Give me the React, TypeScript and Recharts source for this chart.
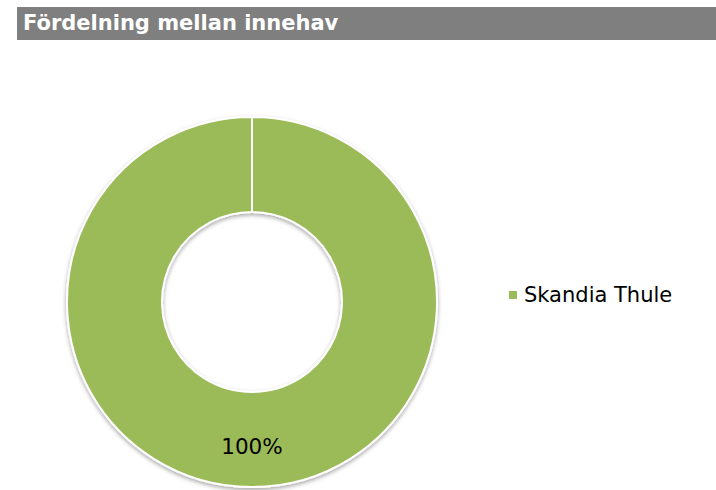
import React from "react";
import { PieChart, Pie, Cell, Legend } from "recharts";

// Holdings and their share of the portfolio (percent)
const holdings: string[] = ["Skandia Thule"];
const shares: number[] = [100];
const colors: string[] = ["#9BBB59"];

const data = holdings.map((name, i) => ({ name, value: shares[i] }));

const FONT = "'DejaVu Sans', Verdana, sans-serif";

// Percent label placed inside the ring, a bit towards the outer edge
const renderLabel = (props: any) => {
    const { cx, cy, midAngle, innerRadius, outerRadius, value } = props;
    const RAD = Math.PI / 180;
    const r = innerRadius + (outerRadius - innerRadius) * 0.57;
    const x = cx + r * Math.cos(-midAngle * RAD);
    const y = cy + r * Math.sin(-midAngle * RAD);
    return (
        <text
            x={x}
            y={y}
            fill="#000"
            textAnchor="middle"
            dominantBaseline="central"
            style={{ fontFamily: FONT, fontSize: 21.5 }}
        >
            {`${value}%`}
        </text>
    );
};

const LegendContent = (props: any) => {
    const { payload } = props;
    return (
        <div>
            {(payload || []).map((entry: any, i: number) => (
                <div key={i} style={{ display: "flex", alignItems: "center", fontFamily: FONT, fontSize: 21, color: "#000" }}>
                    <span style={{ display: "inline-block", width: 8, height: 8, background: entry.color, marginRight: 7 }} />
                    <span>{entry.value}</span>
                </div>
            ))}
        </div>
    );
};

export default function App() {
    return (
        <div style={{ position: "absolute", left: 0, top: 0, width: 716, height: 490, background: "#fff", overflow: "hidden" }}>
            {/* Title bar */}
            <div
                style={{
                    position: "absolute",
                    left: 17,
                    top: 7,
                    width: 699,
                    height: 33,
                    background: "#7F7F7F",
                    color: "#fff",
                    fontFamily: FONT,
                    fontWeight: "bold",
                    fontSize: 21,
                    lineHeight: "33px",
                    paddingLeft: 6,
                    boxSizing: "border-box",
                }}
            >
                Fördelning mellan innehav
            </div>
            <PieChart
                width={716}
                height={490}
                margin={{ top: 0, right: 0, bottom: 0, left: 0 }}
                style={{ position: "absolute", left: 0, top: 0 }}
            >
                <defs>
                    <filter id="ringShadow" x="-20%" y="-20%" width="140%" height="140%">
                        <feDropShadow dx="0" dy="2" stdDeviation="2" floodColor="#000" floodOpacity="0.35" />
                    </filter>
                </defs>
                <Pie
                    data={data}
                    dataKey="value"
                    nameKey="name"
                    cx={252}
                    cy={302}
                    innerRadius={90}
                    outerRadius={185}
                    startAngle={90}
                    endAngle={-270}
                    stroke="#FFFFFF"
                    strokeWidth={2}
                    label={renderLabel}
                    labelLine={false}
                    isAnimationActive={false}
                >
                    {data.map((entry, index) => (
                        <Cell key={`cell-${index}`} fill={colors[index]} filter="url(#ringShadow)" />
                    ))}
                </Pie>
                <Legend
                    layout="vertical"
                    content={<LegendContent />}
                    wrapperStyle={{ left: 509, top: 283, width: 200 }}
                />
            </PieChart>
        </div>
    );
}
